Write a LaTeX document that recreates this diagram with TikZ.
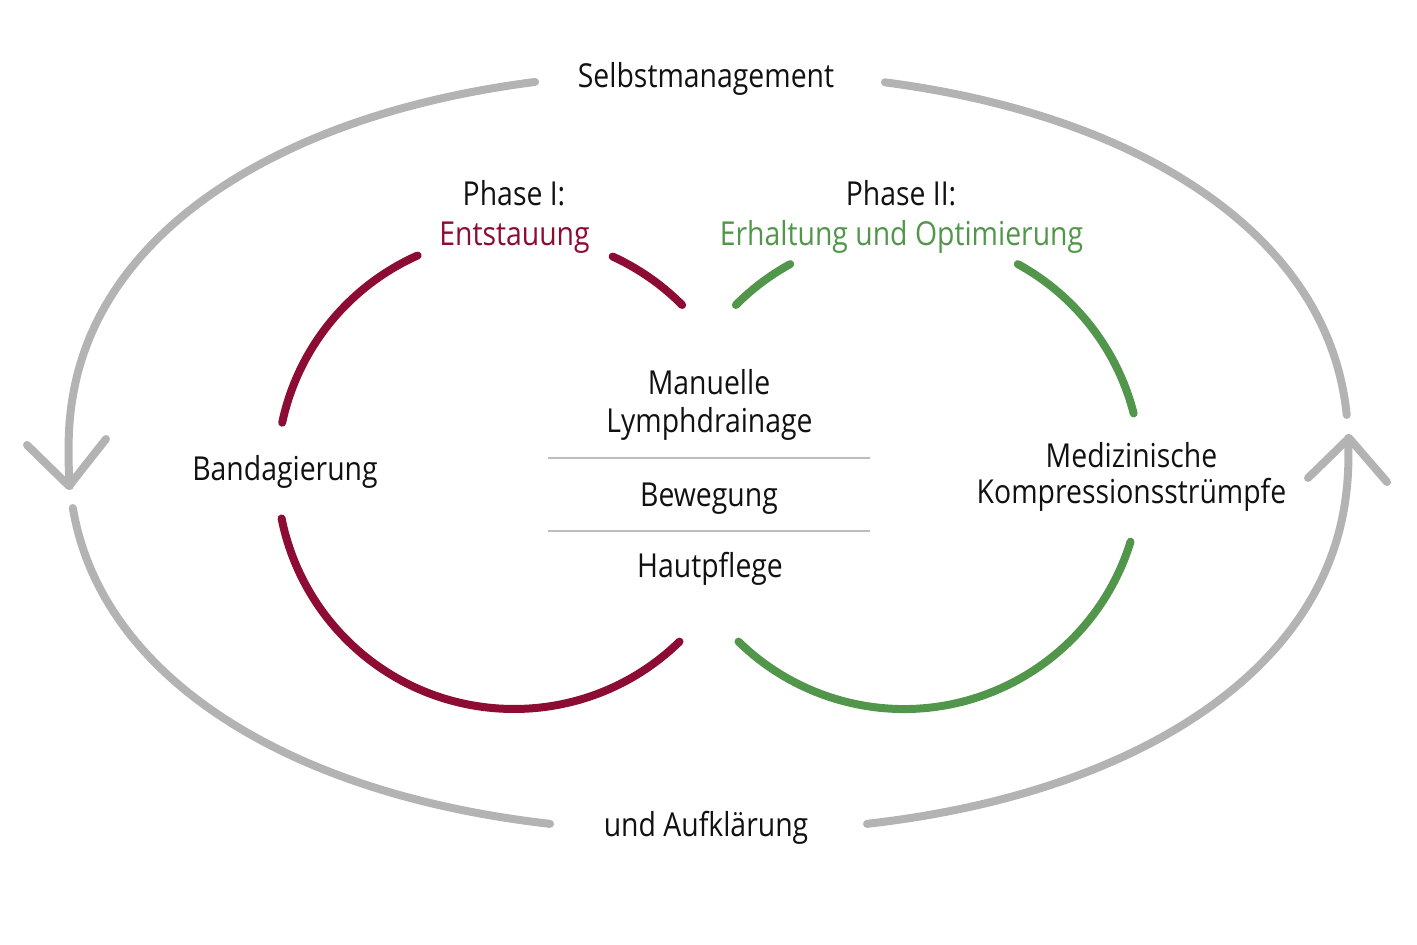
\documentclass[tikz,border=0pt]{standalone}
\usepackage{fontspec}
\setmainfont{Open Sans}[FakeStretch=0.86]
\definecolor{outergray}{HTML}{B3B3B3}
\definecolor{phaseRed}{HTML}{8C0C34}
\definecolor{phaseGreen}{HTML}{52964B}
\definecolor{sepgray}{HTML}{BDBDBD}
\definecolor{txt}{HTML}{111111}
\begin{document}
\begin{tikzpicture}[x=1pt,y=-1pt,
  lbl/.style={font=\fontsize{33}{38}\selectfont, anchor=base, inner sep=0pt, text=txt},
  outer/.style={draw=outergray, line width=8pt, line cap=round, line join=round},
  redarc/.style={draw=phaseRed, line width=8pt, line cap=round},
  greenarc/.style={draw=phaseGreen, line width=8pt, line cap=round},
  sep/.style={draw=sepgray, line width=2pt}]
\useasboundingbox (0,0) rectangle (1417,945);
% outer cycle (superellipse pieces)
\foreach \a/\b in {175.97/256.24, 102.44/173.0, -1.52/77.56, -75.97/-4.43}{
  \draw[outer] plot[domain=\a:\b, samples=70, variable=\t, smooth]
    ({708.5+640*cos(\t)*pow(abs(cos(\t))+0.00001,-0.0909)},
     {452+380*sin(\t)*pow(abs(sin(\t))+0.00001,-0.0909)});
}
\coordinate (tipL) at (69,486);
\coordinate (tipR) at (1349,438);
\draw[outer] (27,445) -- (tipL) -- (106,439);
\draw[outer] (1308,478) -- (tipR) -- (1387,482);
% red circle arcs
\coordinate (cR) at (514,472);
\draw[redarc] (cR) ++(192:237) arc[start angle=192, end angle=246, radius=237];
\draw[redarc] (cR) ++(294.6:237) arc[start angle=294.6, end angle=315.2, radius=237];
\draw[redarc] (cR) ++(45.7:237) arc[start angle=45.7, end angle=168.7, radius=237];
% green circle arcs
\coordinate (cG) at (904,472);
\draw[greenarc] (cG) ++(224.8:237) arc[start angle=224.8, end angle=241.3, radius=237];
\draw[greenarc] (cG) ++(298.7:237) arc[start angle=298.7, end angle=345.7, radius=237];
\draw[greenarc] (cG) ++(17.1:237) arc[start angle=17.1, end angle=134.3, radius=237];
% separators
\coordinate (s1a) at (548,458); \coordinate (s1b) at (870,458);
\coordinate (s2a) at (548,530.5); \coordinate (s2b) at (870,530.5);
\draw[sep] (s1a) -- (s1b);
\draw[sep] (s2a) -- (s2b);
% texts
\node[lbl] (self) at (706,87) {Selbstmanagement};
\node[lbl] (aufk) at (706,836) {und Aufklärung};
\node[lbl] (p1) at (514,205.5) {Phase I:};
\node[lbl, text=phaseRed] (p1b) at (514.5,245) {Entstauung};
\node[lbl] (p2) at (901,205.5) {Phase II:};
\node[lbl, text=phaseGreen] (p2b) at (901.5,245) {Erhaltung und Optimierung};
\node[lbl] (band) at (285,480) {Bandagierung};
\node[lbl] (man1) at (709,394) {Manuelle};
\node[lbl] (man2) at (709.5,432) {Lymphdrainage};
\node[lbl] (bew) at (709,506) {Bewegung};
\node[lbl] (haut) at (710,577) {Hautpflege};
\node[lbl] (med1) at (1131.5,467) {Medizinische};
\node[lbl] (med2) at (1131.5,503.5) {Kompressionsstrümpfe};
\end{tikzpicture}
\end{document}
